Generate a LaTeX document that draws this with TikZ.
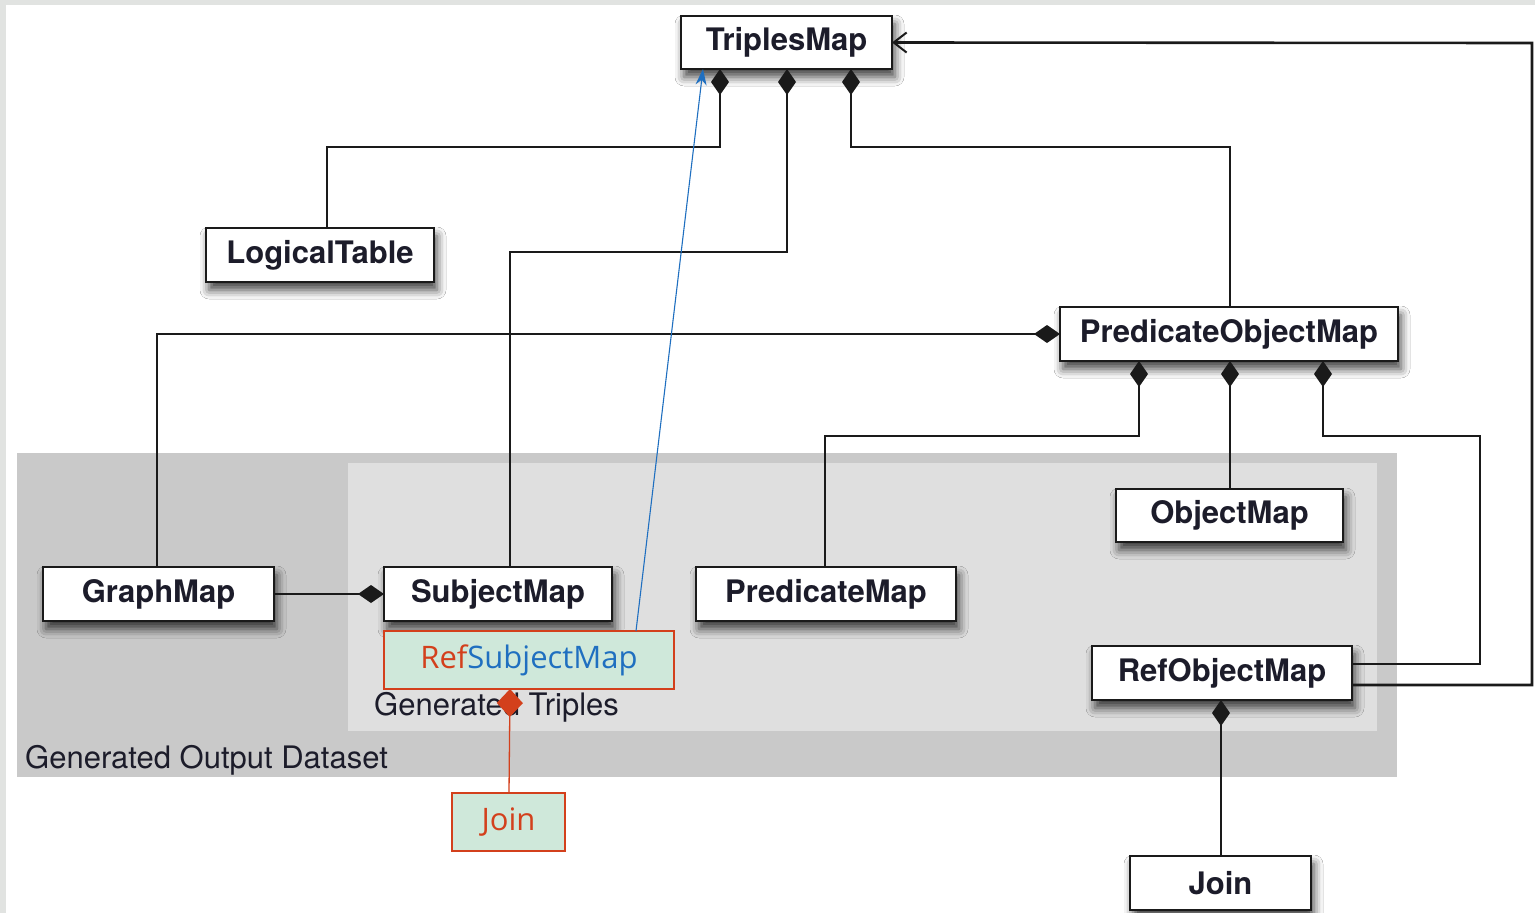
\documentclass[tikz,border=0pt]{standalone}
\usepackage{fontspec}
\setmainfont{TeX Gyre Heros}
\newfontfamily\labelfont{TeX Gyre Heros}
\newfontfamily\notefont{Open Sans}
\usetikzlibrary{arrows.meta,shadows.blur}

\definecolor{edgegray}{HTML}{E1E3E1}
\definecolor{outerzone}{HTML}{C9C9C9}
\definecolor{innerzone}{HTML}{DFDFDF}
\definecolor{noteRed}{HTML}{D3401C}
\definecolor{noteBlue}{HTML}{1F6FC0}
\definecolor{noteFill}{HTML}{CFE8DA}
\definecolor{inkText}{HTML}{1C1C2A}
\definecolor{wireInk}{HTML}{1A1A1A}

\tikzset{
  classbox/.style={draw=wireInk, line width=2.6pt, fill=white, inner sep=0pt, outer sep=0pt,
    text=inkText, font=\labelfont\bfseries\fontsize{31}{36}\selectfont,
    blur shadow={shadow xshift=3pt, shadow yshift=-8pt, shadow blur radius=9pt, shadow opacity=75}},
  notebox/.style={draw=noteRed, line width=1.6pt, fill=noteFill, inner sep=0pt, outer sep=0pt,
    font=\notefont\fontsize{31}{36}\selectfont},
  wire/.style={draw=wireInk, line width=2.6pt},
  owns/.style={wire, -{Diamond[length=26pt,width=18pt]}},
  refers/.style={wire, -{Straight Barb[length=13pt,width=20pt,line width=2pt]}},
  zonelabel/.style={anchor=west, inner sep=0pt, text=inkText, font=\labelfont\fontsize{31}{36}\selectfont}
}

\begin{document}
\begin{tikzpicture}[x=1pt,y=-1pt]
\useasboundingbox (0,0) rectangle (1535,913);
\fill[white] (0,0) rectangle (1535,913);
% page edge strips
\fill[edgegray] (0,0) rectangle (1535,5);
\fill[edgegray] (0,0) rectangle (6,913);

% output zones
\fill[outerzone] (17,453) rectangle (1397,777);
\fill[innerzone] (348,463) rectangle (1377,731);
\node[zonelabel] (triplesLabel) at (374,707) {Generated Triples};
\node[zonelabel] (datasetLabel) at (25,760) {Generated Output Dataset};

% classes
\node[classbox, minimum width=211, minimum height=53] (tm)  at (786.5,42.5) {TriplesMap};
\node[classbox, minimum width=228, minimum height=54] (lt)  at (320,255)    {LogicalTable};
\node[classbox, minimum width=338, minimum height=54] (pom) at (1229,334)   {PredicateObjectMap};
\node[classbox, minimum width=227, minimum height=53] (om)  at (1229.5,515.5) {ObjectMap};
\node[classbox, minimum width=231, minimum height=54] (gm)  at (158.5,594)  {GraphMap};
\node[classbox, minimum width=228, minimum height=54] (sm)  at (498,594)    {SubjectMap};
\node[classbox, minimum width=260, minimum height=54] (pm)  at (826,594)    {PredicateMap};
\node[classbox, minimum width=260, minimum height=54] (rom) at (1222,673)   {RefObjectMap};
\node[classbox, minimum width=181, minimum height=54] (jn)  at (1220.5,883) {Join};

% annotation boxes
\node[notebox, minimum width=290, minimum height=58] (rsm) at (529,660)
  {\textcolor{noteRed}{Ref}\textcolor{noteBlue}{SubjectMap}};
\node[notebox, minimum width=113, minimum height=58, text=noteRed] (jg) at (508.5,822) {Join};

% composition links into TriplesMap
\draw[owns] ([xshift=7pt]lt.north) -- ++(0,-81) -| ([xshift=39pt]tm.south west);
\draw[owns] ([xshift=12pt]sm.north) -- (510,252) -| ([xshift=106pt]tm.south west);
\draw[owns] ([xshift=1pt]pom.north) -- (1230,147) -| ([xshift=170pt]tm.south west);

% composition links into PredicateObjectMap
\draw[owns] ([xshift=-1.5pt]gm.north) |- (pom.west);
\draw[owns] ([xshift=-1pt]pm.north) -- (825,436) -| ([xshift=79pt]pom.south west);
\draw[owns] ([xshift=0.5pt]om.north) -- ([xshift=170pt]pom.south west);
\draw[owns] ([yshift=9pt]rom.east) -- (1480,664) -- (1480,436) -| ([xshift=263pt]pom.south west);

% remaining links
\draw[owns] (gm.east) -- (sm.west);
\draw[owns] ([xshift=0.5pt]jn.north) -- ([xshift=-1pt]rom.south);
\draw[refers] ([yshift=-12pt]rom.east) -- (1532,685) -- (1532,43) -- (tm.east);

% annotation links
\draw[noteBlue, line width=1.1pt, -{Stealth[length=16pt,width=11pt]}]
  ([xshift=252pt]rsm.north west) -- ([xshift=22pt]tm.south west);
\draw[noteRed, line width=1.3pt, -{Diamond[length=28pt,width=26pt]}]
  ([xshift=0.5pt]jg.north) -- ([xshift=-19pt]rsm.south);
\end{tikzpicture}
\end{document}
